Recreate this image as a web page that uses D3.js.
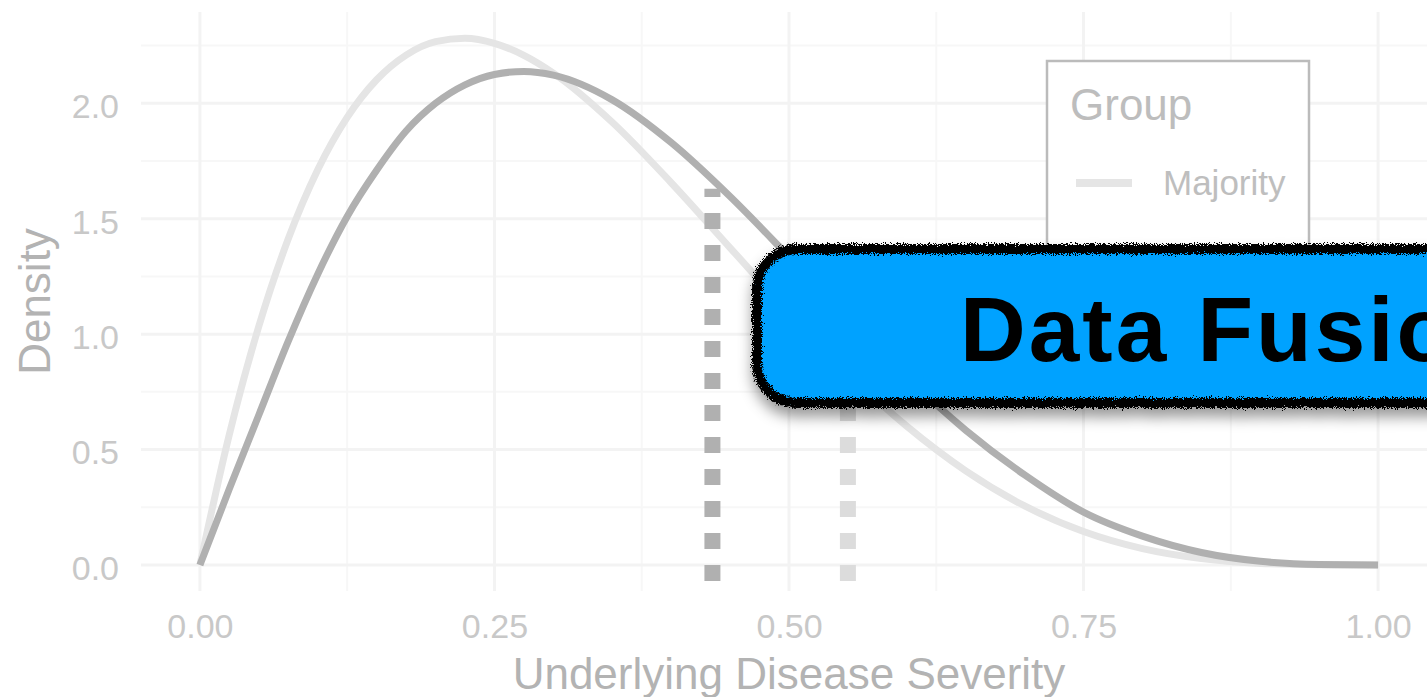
<!DOCTYPE html>
<html>
<head>
<meta charset="utf-8">
<script src="https://cdn.jsdelivr.net/npm/d3@7"></script>
<style>
  html, body { margin: 0; padding: 0; background: #ffffff; overflow: hidden; }
  svg { display: block; font-family: "Liberation Sans", Arial, Helvetica, sans-serif; }
</style>
</head>
<body>
<svg id="chart" width="1427" height="697"></svg>
<script>
// Severity grid (x) shared by both density curves
const severity = [0, 0.025, 0.05, 0.075, 0.1, 0.125, 0.15, 0.175, 0.2, 0.225, 0.25, 0.275,
                  0.3, 0.35, 0.4, 0.45, 0.5, 0.55, 0.6, 0.65, 0.7, 0.75, 0.8, 0.85, 0.9, 0.95, 1];

// Density of each group at those severities
const majorityDensity = [0, 0.566, 1.034, 1.413, 1.712, 1.939, 2.102, 2.209, 2.267, 2.282, 2.260, 2.208,
                         2.131, 1.918, 1.656, 1.374, 1.094, 0.832, 0.601, 0.408, 0.256, 0.145, 0.071, 0.028, 0.007, 0.001, 0];
const minorityDensity = [0, 0.33, 0.65, 0.97, 1.26, 1.51, 1.71, 1.88, 2.00, 2.08, 2.125, 2.138,
                         2.122, 2.015, 1.83, 1.596, 1.335, 1.068, 0.813, 0.584, 0.39, 0.229, 0.125, 0.054, 0.016, 0.002, 0];

// Group labels and their cut-off lines (position and height)
const groups = ["Majority", "Minority"];
const cutoffX = [0.55, 0.435];
const cutoffTop = [0.83, 1.63];

// Axis breaks
const xMajor = [0, 0.25, 0.5, 0.75, 1];
const xMinor = [0.125, 0.375, 0.625, 0.875];
const yMajor = [0, 0.5, 1, 1.5, 2];
const yMinor = [0.25, 0.75, 1.25, 1.75, 2.25];

const bannerText = "Data Fusion";

// ---- styling ----
const colors = { Majority: "#e5e5e5", Minority: "#b0b0b0" };
const cutoffColors = { Majority: "#dcdcdc", Minority: "#b0b0b0" };
const panel = { left: 141, right: 1437, top: 12, bottom: 591 };

const svg = d3.select("#chart");

// 5% expansion either side, as in ggplot
const x = d3.scaleLinear().domain([-0.05, 1.05]).range([panel.left, panel.right]);
const y = d3.scaleLinear().domain([-0.1126, 2.3956]).range([panel.bottom, panel.top]);

// defs: rough marker edge + drop shadow for the banner
const defs = svg.append("defs");
const rough = defs.append("filter").attr("id", "rough")
  .attr("x", "-5%").attr("y", "-20%").attr("width", "110%").attr("height", "140%");
rough.append("feTurbulence").attr("type", "fractalNoise").attr("baseFrequency", 1.1)
  .attr("numOctaves", 3).attr("seed", 7).attr("result", "noise");
rough.append("feDisplacementMap").attr("in", "SourceGraphic").attr("in2", "noise")
  .attr("scale", 9).attr("xChannelSelector", "R").attr("yChannelSelector", "G");

const shadow = defs.append("filter").attr("id", "shadow")
  .attr("x", "-10%").attr("y", "-20%").attr("width", "120%").attr("height", "160%");
shadow.append("feDropShadow").attr("dx", 0).attr("dy", 9).attr("stdDeviation", 7)
  .attr("flood-color", "#000").attr("flood-opacity", 0.4);

// ---- grid ----
const grid = svg.append("g");
grid.selectAll("line.xminor").data(xMinor).join("line")
  .attr("x1", d => x(d)).attr("x2", d => x(d)).attr("y1", panel.top).attr("y2", panel.bottom)
  .attr("stroke", "#f7f7f7").attr("stroke-width", 2);
grid.selectAll("line.yminor").data(yMinor).join("line")
  .attr("y1", d => y(d)).attr("y2", d => y(d)).attr("x1", panel.left).attr("x2", panel.right)
  .attr("stroke", "#f7f7f7").attr("stroke-width", 2);
grid.selectAll("line.xmajor").data(xMajor).join("line")
  .attr("x1", d => x(d)).attr("x2", d => x(d)).attr("y1", panel.top).attr("y2", panel.bottom)
  .attr("stroke", "#f3f3f3").attr("stroke-width", 3);
grid.selectAll("line.ymajor").data(yMajor).join("line")
  .attr("y1", d => y(d)).attr("y2", d => y(d)).attr("x1", panel.left).attr("x2", panel.right)
  .attr("stroke", "#f3f3f3").attr("stroke-width", 3);

// ---- axes ----
const xAxis = svg.append("g").attr("transform", `translate(0,${panel.bottom})`)
  .call(d3.axisBottom(x).tickValues(xMajor).tickFormat(d3.format(".2f")).tickSize(0).tickPadding(23));
const yAxis = svg.append("g").attr("transform", `translate(${panel.left},0)`)
  .call(d3.axisLeft(y).tickValues(yMajor).tickFormat(d3.format(".1f")).tickSize(0).tickPadding(22));
[xAxis, yAxis].forEach(a => {
  a.select(".domain").remove();
  a.selectAll("text").attr("fill", "#c8c8c8").style("font-size", "34px")
    .style("font-family", "'Liberation Sans', Arial, sans-serif");
});
yAxis.selectAll("text").attr("dy", "0.42em");

svg.append("text").attr("x", x(0.5)).attr("y", 689).attr("text-anchor", "middle")
  .attr("fill", "#b3b3b3").style("font-size", "44px").text("Underlying Disease Severity");
svg.append("text").attr("transform", `translate(50,${(panel.top + panel.bottom) / 2}) rotate(-90)`)
  .attr("text-anchor", "middle").attr("fill", "#b3b3b3").style("font-size", "44px").text("Density");

// ---- density curves ----
const line = d3.line().x(d => x(d[0])).y(d => y(d[1])).curve(d3.curveMonotoneX);
const series = [
  { group: "Majority", values: severity.map((s, i) => [s, majorityDensity[i]]) },
  { group: "Minority", values: severity.map((s, i) => [s, minorityDensity[i]]) }
];
svg.append("g").selectAll("path").data(series).join("path")
  .attr("d", d => line(d.values)).attr("fill", "none")
  .attr("stroke", d => colors[d.group]).attr("stroke-width", 7)
  .attr("stroke-linejoin", "round");

// ---- cut-off lines (dotted) ----
const dot = 16;
svg.append("g").selectAll("line").data(groups).join("line")
  .attr("x1", (g, i) => x(cutoffX[i])).attr("x2", (g, i) => x(cutoffX[i]))
  .attr("y1", y(0) + dot).attr("y2", (g, i) => y(cutoffTop[i]))
  .attr("stroke", g => cutoffColors[g]).attr("stroke-width", dot)
  .attr("stroke-dasharray", `${dot} ${dot}`);

// ---- legend ----
const legend = svg.append("g").attr("transform", "translate(1047,61)");
legend.append("rect").attr("width", 262).attr("height", 250)
  .attr("fill", "#fff").attr("stroke", "#bbbbbb").attr("stroke-width", 2.5);
legend.append("text").attr("x", 23).attr("y", 59).attr("fill", "#bdbdbd")
  .style("font-size", "44px").text("Group");
const item = legend.selectAll("g.item").data(groups).join("g")
  .attr("transform", (g, i) => `translate(0,${122 + i * 80})`);
item.append("line").attr("x1", 29).attr("x2", 85).attr("stroke", g => colors[g]).attr("stroke-width", 8);
item.append("text").attr("x", 116).attr("y", 12).attr("fill", "#bebebe")
  .style("font-size", "35px").text(g => g);

// ---- banner ----
const banner = svg.append("g").attr("filter", "url(#shadow)");
const bx = 752, by = 244, bw = 930, bh = 164;
banner.append("rect").attr("x", bx + 3).attr("y", by + 3).attr("width", bw - 6).attr("height", bh - 6)
  .attr("rx", 42).attr("fill", "#00a2ff");
banner.append("rect").attr("x", bx + 5).attr("y", by + 5).attr("width", bw - 10).attr("height", bh - 10)
  .attr("rx", 40).attr("fill", "none").attr("stroke", "#000").attr("stroke-width", 10)
  .attr("filter", "url(#rough)");
svg.append("text").attr("x", 960).attr("y", 361).attr("fill", "#000")
  .style("font-size", "91px").style("font-weight", "bold").style("letter-spacing", "3px")
  .text(bannerText);
</script>
</body>
</html>
